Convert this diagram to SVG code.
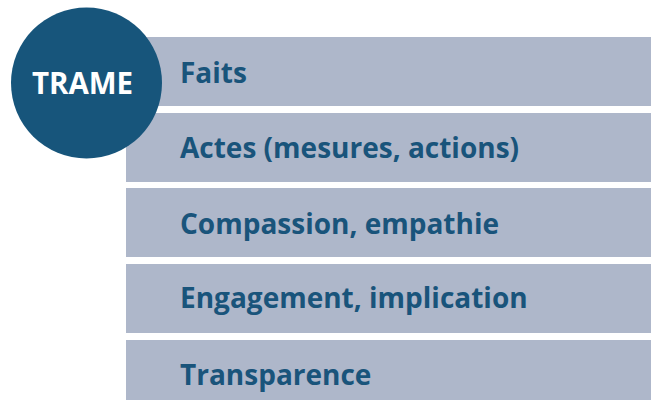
<svg xmlns="http://www.w3.org/2000/svg" width="651" height="400" viewBox="0 0 651 400">
<style>
.bar{fill:#aeb7ca}
.lbl{font-family:"Open Sans","Liberation Sans",sans-serif;font-weight:bold;font-size:28px;fill:#19547b}
.hub{fill:#17557b}
.hubt{font-family:"Open Sans","Liberation Sans",sans-serif;font-weight:bold;font-size:29.5px;fill:#ffffff;text-anchor:middle}
</style>
<rect width="651" height="400" fill="#ffffff"/>
<g id="n1"><rect class="bar" x="126" y="37" width="525" height="69"/><text class="lbl" x="180" y="83">Faits</text></g>
<g id="n2"><rect class="bar" x="126" y="113" width="525" height="69"/><text class="lbl" x="180" y="158">Actes (mesures, actions)</text></g>
<g id="n3"><rect class="bar" x="126" y="188" width="525" height="69"/><text class="lbl" x="180" y="234">Compassion, empathie</text></g>
<g id="n4"><rect class="bar" x="126" y="264" width="525" height="69"/><text class="lbl" x="180" y="308">Engagement, implication</text></g>
<g id="n5"><rect class="bar" x="126" y="340" width="525" height="69"/><text class="lbl" x="180" y="385">Transparence</text></g>
<g id="hub"><circle class="hub" cx="86.5" cy="83" r="75.5"/><text class="hubt" x="82.5" y="94">TRAME</text></g>
<g id="connectors"/>
</svg>
